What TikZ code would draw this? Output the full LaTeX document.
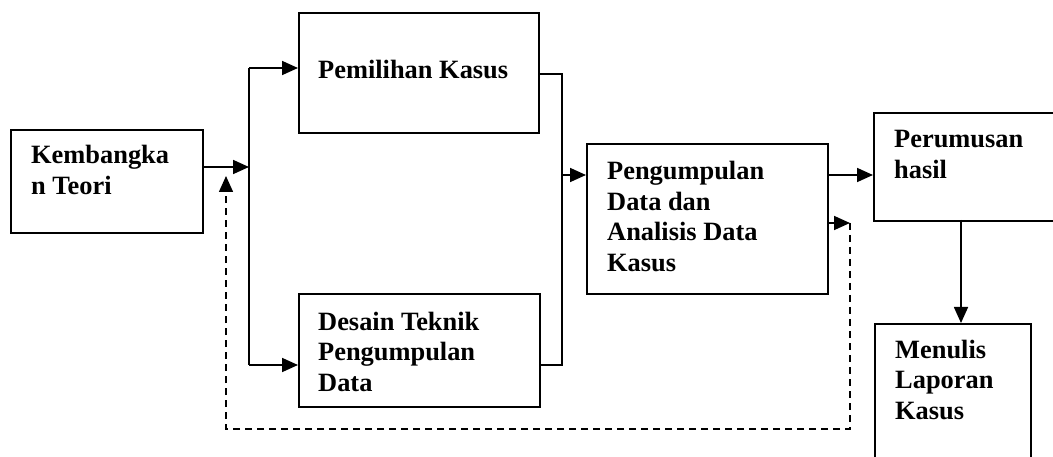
\documentclass[tikz,border=0pt]{standalone}
\usepackage{fontspec}
\setmainfont{Liberation Serif}
\usetikzlibrary{arrows.meta}
\begin{document}
\begin{tikzpicture}[x=1pt,y=-1pt,
  box/.style={draw, line width=1.7pt, rectangle, inner sep=0pt, anchor=north west},
  lbl/.style={anchor=base west, inner sep=0pt, align=left,
    font=\fontsize{26.4}{30.5}\selectfont\bfseries},
  conn/.style={line width=1.7pt},
  arr/.style={conn, -{Triangle[length=16pt,width=14pt]}},
  fbline/.style={line width=1.5pt, dash pattern=on 7pt off 5pt, -{Triangle[length=16pt,width=14pt]}}]
\useasboundingbox (0,0) rectangle (1053,457);
\fill[white] (0,0) rectangle (1053,457);
% boxes
\node[box, minimum width=192pt, minimum height=103pt] (K) at (10,129) {};
\node[box, minimum width=240pt, minimum height=120pt] (P) at (298,12) {};
\node[box, minimum width=241pt, minimum height=113pt] (D) at (298,293) {};
\node[box, minimum width=241pt, minimum height=150pt] (G) at (586,143) {};
\node[box, minimum width=200pt, minimum height=108pt] (R) at (873,112) {};
\node[box, minimum width=156pt, minimum height=150pt] (M) at (874,323) {};
% texts (anchor = baseline of the last line)
\node[lbl] (tK) at (31,194.5) {Kembangka\\n Teori};
\node[lbl] (tP) at (318,79) {Pemilihan Kasus};
\node[lbl] (tD) at (318,391) {Desain Teknik\\Pengumpulan\\Data};
\node[lbl] (tG) at (607,271.5) {Pengumpulan\\Data dan\\Analisis Data\\Kasus};
\node[lbl] (tR) at (894,178.5) {Perumusan\\hasil};
\node[lbl] (tM) at (895,419) {Menulis\\Laporan\\Kasus};
% coordinates
\coordinate (kout) at (202,167);
\coordinate (spl) at (249,167);
\coordinate (splT) at (249,68);
\coordinate (splB) at (249,365);
\coordinate (mT) at (562,74);
\coordinate (mB) at (562,365);
\coordinate (mM) at (562,175);
\coordinate (gout) at (827,175);
\coordinate (fb) at (850,223);
\coordinate (fb1) at (850,429);
\coordinate (fb2) at (226,429);
\coordinate (fbEnd) at (226,176);
\coordinate (rout) at (961,220);
% connectors
\draw[arr] (kout) -- (spl);
\draw[conn] (splT) -- (splB);
\draw[arr] (splT) -- (splT -| P.west);
\draw[arr] (splB) -- (splB -| D.west);
\draw[conn] (P.east |- mT) -- (mT) -- (mB) -- (D.east |- mB);
\draw[arr] (mM) -- (mM -| G.west);
\draw[arr] (G.east |- gout) -- (gout -| R.west);
\draw[arr] (G.east |- fb) -- (fb);
\draw[fbline] (fb) -- (fb1) -- (fb2) -- (fbEnd);
\draw[arr] (rout) -- (rout |- M.north);
\end{tikzpicture}
\end{document}
